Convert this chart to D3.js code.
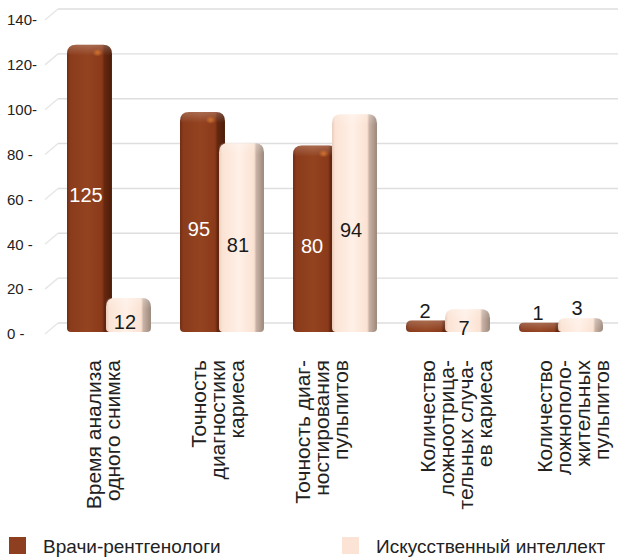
<!DOCTYPE html>
<html>
<head>
<meta charset="utf-8">
<script src="https://cdn.jsdelivr.net/npm/d3@7"></script>
<style>
  body { margin: 0; background: #fff; }
  svg { display: block; }
  text { font-family: "Liberation Sans", Arial, Helvetica, sans-serif; }
</style>
</head>
<body>
<svg id="chart" width="618" height="560"></svg>
<script>
// Categories (with the line breaks used on the rotated axis labels)
const categories = [
  "Время анализа одного снимка",
  "Точность диагностики кариеса",
  "Точность диагностирования пульпитов",
  "Количество ложноотрицательных случаев кариеса",
  "Количество ложноположительных пульпитов"
];
const categoryLines = [
  ["Время анализа", "одного снимка"],
  ["Точность", "диагностики", "кариеса"],
  ["Точность диаг-", "ностирования", "пульпитов"],
  ["Количество", "ложноотрица-", "тельных случа-", "ев кариеса"],
  ["Количество", "ложнополо-", "жительных", "пульпитов"]
];
const seriesNames = ["Врачи-рентгенологи", "Искусственный интеллект"];
const radiologists = [125, 95, 80, 2, 1];
const aiValues = [12, 81, 94, 7, 3];
const tickValues = [0, 20, 40, 60, 80, 100, 120, 140];
const tickLabels = ["0 -", "20 -", "40 -", "60 -", "80 -", "100-", "120-", "140-"];

const seriesValues = [radiologists, aiValues];
const seriesColors = ["#8e3f1f", "#fbe4d5"];

const svg = d3.select("#chart");
const W = 618, H = 560;

const y = d3.scaleLinear().domain([0, 140]).range([325, 11]);
const x = d3.scaleBand().domain(categories).range([67, 603]).paddingInner(0.257).paddingOuter(0);
const xs = d3.scaleBand().domain(seriesNames).range([0, 78]);
const barW = x.bandwidth() - xs.bandwidth();
const sideW = 7;
const baseY = y(0) + 7;

// gradients
const defs = svg.append("defs");
function hGrad(id, stops) {
  const g = defs.append("linearGradient").attr("id", id)
    .attr("x1", 0).attr("x2", 1).attr("y1", 0).attr("y2", 0);
  stops.forEach(([o, c]) => g.append("stop").attr("offset", o).attr("stop-color", c));
}
hGrad("gBrown", [[0, "#6f2c12"], [0.07, "#8a3b1b"], [0.45, "#93431f"], [0.78, "#8a3a1a"], [0.83, "#66280f"], [1, "#4c1c09"]]);
hGrad("gLight", [[0, "#e8cdbd"], [0.07, "#fbe3d4"], [0.45, "#fff0e7"], [0.78, "#fbe2d2"], [0.83, "#c9b2a5"], [1, "#9b877b"]]);
const cap = defs.append("linearGradient").attr("id", "gCap")
  .attr("x1", 0).attr("x2", 0).attr("y1", 0).attr("y2", 1);
cap.append("stop").attr("offset", 0).attr("stop-color", "#fff").attr("stop-opacity", 0.22);
cap.append("stop").attr("offset", 1).attr("stop-color", "#fff").attr("stop-opacity", 0);
const spot = defs.append("radialGradient").attr("id", "gSpot");
spot.append("stop").attr("offset", 0).attr("stop-color", "#d9782e").attr("stop-opacity", 0.9);
spot.append("stop").attr("offset", 1).attr("stop-color", "#d9782e").attr("stop-opacity", 0);

// gridlines with a short receding segment on the left
const grid = svg.append("g");
tickValues.forEach((v, i) => {
  const gy = y(v) - 2;
  grid.append("path")
    .attr("d", `M45,${gy + 11}L58,${gy}`)
    .attr("stroke", "#e6e6e6").attr("stroke-width", 1.4).attr("fill", "none");
  grid.append("line")
    .attr("x1", 58).attr("x2", W).attr("y1", gy).attr("y2", gy)
    .attr("stroke", "#dedede").attr("stroke-width", 1.4);
  svg.append("text")
    .attr("x", 7).attr("y", gy + 11).attr("dy", "0.35em")
    .attr("font-size", 15).attr("fill", "#222")
    .text(tickLabels[i]);
});

function roundedBar(x0, y0, w, y1, rt, rb) {
  const h = y1 - y0;
  rt = Math.min(rt, h / 2, w / 2);
  rb = Math.min(rb, h / 2);
  return `M${x0},${y0 + rt}` +
    `Q${x0},${y0} ${x0 + rt},${y0}` +
    `L${x0 + w - rt},${y0}` +
    `Q${x0 + w},${y0} ${x0 + w},${y0 + rt}` +
    `L${x0 + w},${y1 - rb}` +
    `Q${x0 + w},${y1} ${x0 + w - rb},${y1}` +
    `L${x0 + rb},${y1}` +
    `Q${x0},${y1} ${x0},${y1 - rb}Z`;
}

const bars = svg.append("g");
const labels = svg.append("g");
categories.forEach((c, ci) => {
  seriesNames.forEach((s, si) => {
    const v = seriesValues[si][ci];
    const bx = x(c) + xs(s);
    const top = y(v);
    const h = baseY - top;
    bars.append("path")
      .attr("d", roundedBar(bx, top, barW, baseY, 9, 4))
      .attr("fill", si === 0 ? "url(#gBrown)" : "url(#gLight)");
    const capH = Math.min(11, h);
    bars.append("path")
      .attr("d", roundedBar(bx, top, barW, top + capH, 9, 0))
      .attr("fill", "url(#gCap)");
    if (si === 0 && h > 20) {
      bars.append("ellipse")
        .attr("cx", bx + barW * 0.68).attr("cy", top + 8)
        .attr("rx", 5).attr("ry", 4).attr("fill", "url(#gSpot)");
    }
    // value label: inside tall bars, above short ones
    const inside = h > 18;
    const lx = bx + (barW - sideW) / 2;
    const ly = inside ? (top + baseY) / 2 + 7 : top - 10;
    labels.append("text")
      .attr("x", lx).attr("y", ly).attr("dy", "0.35em")
      .attr("text-anchor", "middle").attr("font-size", 20)
      .attr("fill", inside && si === 0 ? "#fff" : "#1a1a1a")
      .text(v);
  });
});

// rotated category labels, each block nudged sideways under its group
const lineGap = 19;
const labelShift = [-5, -4, -13, 8, 12];
categories.forEach((c, ci) => {
  const lines = categoryLines[ci];
  const cx = x(c) + x.bandwidth() / 2 + labelShift[ci];
  const first = cx - (lines.length - 1) * lineGap / 2;
  lines.forEach((ln, li) => {
    const colX = first + li * lineGap + 7;
    svg.append("text")
      .attr("transform", `translate(${colX},360) rotate(-90)`)
      .attr("text-anchor", "end")
      .attr("font-size", 21).attr("fill", "#222")
      .text(ln);
  });
});

// legend
const legendX = [9, 342];
seriesNames.forEach((s, si) => {
  const g = svg.append("g").attr("transform", `translate(${legendX[si]},537)`);
  g.append("rect").attr("width", 17).attr("height", 17).attr("fill", seriesColors[si]);
  g.append("text").attr("x", 34).attr("y", 16).attr("font-size", 19).attr("fill", "#222").text(s);
});
</script>
</body>
</html>
